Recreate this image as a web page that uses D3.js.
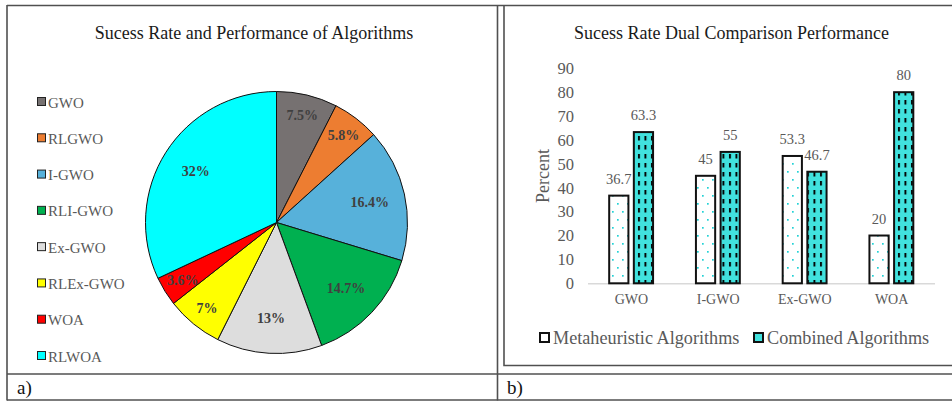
<!DOCTYPE html>
<html><head><meta charset="utf-8">
<script src="https://cdn.jsdelivr.net/npm/d3@7"></script>
<style>
html,body{margin:0;padding:0;background:#fff;}
svg{display:block;font-family:"Liberation Serif","Times New Roman",serif;}
</style></head>
<body>
<svg id="c" width="952" height="404"></svg>
<script>
// ---- data ----
const pieTitle = "Sucess Rate and Performance of Algorithms";
const pieCategories = ["GWO","RLGWO","I-GWO","RLI-GWO","Ex-GWO","RLEx-GWO","WOA","RLWOA"];
const pieValues = [7.5, 5.8, 16.4, 14.7, 13, 7, 3.6, 32];
const pieLabels = ["7.5%","5.8%","16.4%","14.7%","13%","7%","3.6%","32%"];
const pieColors = ["#767171","#ED7D31","#57B1DA","#00B050","#DDDDDD","#FFFF00","#FF0000","#00FFFF"];

const barTitle = "Sucess Rate Dual Comparison Performance";
const barCategories = ["GWO","I-GWO","Ex-GWO","WOA"];
const barSeries = ["Metaheuristic Algorithms","Combined Algorithms"];
const metaValues = [36.7, 45, 53.3, 20];
const combinedValues = [63.3, 55, 46.7, 80];
const yTicks = [0,10,20,30,40,50,60,70,80,90];
const panelLabels = ["a)","b)"];

const svg = d3.select("#c");
const defs = svg.append("defs");
const TURQ = "#41E2DE";

// patterns
const pDots = defs.append("pattern").attr("id","dots").attr("patternUnits","userSpaceOnUse")
  .attr("width",10).attr("height",16);
pDots.append("rect").attr("width",10).attr("height",16).attr("fill","#fff");
pDots.append("rect").attr("x",2).attr("y",3).attr("width",1.7).attr("height",1.7).attr("fill","#22D2D6");
pDots.append("rect").attr("x",7).attr("y",11).attr("width",1.7).attr("height",1.7).attr("fill","#22D2D6");

const pDash = defs.append("pattern").attr("id","dash").attr("patternUnits","userSpaceOnUse")
  .attr("width",6.5).attr("height",9);
pDash.append("rect").attr("width",6.5).attr("height",9).attr("fill",TURQ);
pDash.append("rect").attr("x",1).attr("y",1).attr("width",1.9).attr("height",4.5).attr("fill","#000");

// ---- frame ----
const fr = svg.append("g").attr("stroke","#505050").attr("stroke-width",1.6).attr("fill","none");
fr.append("line").attr("x1",7).attr("x2",952).attr("y1",5.5).attr("y2",5.5);
fr.append("line").attr("x1",7).attr("x2",7).attr("y1",5).attr("y2",400.5);
fr.append("line").attr("x1",497.5).attr("x2",497.5).attr("y1",5).attr("y2",400.5);
fr.append("line").attr("x1",7).attr("x2",952).attr("y1",374).attr("y2",374);
fr.append("line").attr("x1",7).attr("x2",952).attr("y1",400).attr("y2",400);
fr.append("polyline").attr("points","504,6 504,365.5 952,365.5");

svg.selectAll("text.panel").data(panelLabels).join("text")
  .attr("x",(d,i)=> i===0 ? 17 : 507).attr("y",394)
  .attr("font-size",19).attr("fill","#111").text(d=>d);

// ---- pie ----
svg.append("text").attr("x",254).attr("y",39).attr("text-anchor","middle")
  .attr("font-size",18).attr("fill","#1a1a1a").text(pieTitle);

const cx = 276.5, cy = 222.5, R = 131;
const pie = d3.pie().sort(null).value(d=>d.v);
const pdata = pie(pieCategories.map((c,i)=>({c, v:pieValues[i], col:pieColors[i], lab:pieLabels[i]})));
const arc = d3.arc().innerRadius(0).outerRadius(R);
const gp = svg.append("g").attr("transform",`translate(${cx},${cy})`);
gp.selectAll("path").data(pdata).join("path")
  .attr("d",arc).attr("fill",d=>d.data.col).attr("stroke","#111").attr("stroke-width",1);
gp.selectAll("text").data(pdata).join("text")
  .attr("transform",d=>{
    const small = d.data.v < 10;
    const r = R*(small?0.84:0.73);
    const a = (d.startAngle+d.endAngle)/2;
    return `translate(${Math.sin(a)*r},${-Math.cos(a)*r})`;
  })
  .attr("text-anchor","middle").attr("dy","0.35em")
  .attr("font-size",14).attr("font-weight","bold").attr("fill","#404040")
  .text(d=>d.data.lab);

// pie legend
const lg = svg.append("g");
const ly = d3.scalePoint().domain(pieCategories).range([102,356]);
pieCategories.forEach((c,i)=>{
  lg.append("rect").attr("x",37.5).attr("y",ly(c)-4.5).attr("width",8).attr("height",8)
    .attr("fill",pieColors[i]).attr("stroke","#222").attr("stroke-width",1);
  lg.append("text").attr("x",48).attr("y",ly(c)+5.5).attr("font-size",15).attr("fill","#595959").text(c);
});

// ---- bar chart ----
svg.append("text").attr("x",731.5).attr("y",39).attr("text-anchor","middle")
  .attr("font-size",18).attr("fill","#1a1a1a").text(barTitle);

const x0 = d3.scaleBand().domain(barCategories).range([588,935]).padding(0);
const bw = x0.bandwidth();
const x1 = d3.scaleBand().domain(barSeries).range([bw*0.25-0.5, bw*0.75]).paddingInner(0.22);
const y = d3.scaleLinear().domain([0,90]).range([283.3,68.3]);

const yAxis = svg.append("g").attr("transform","translate(588,0)")
  .call(d3.axisLeft(y).tickValues(yTicks).tickSize(0).tickPadding(14));
yAxis.select(".domain").remove();
yAxis.selectAll("text").attr("font-family","Liberation Serif").attr("font-size",16.5).attr("fill","#595959");

svg.append("line").attr("x1",588).attr("x2",935).attr("y1",y(0)+0.5).attr("y2",y(0)+0.5)
  .attr("stroke","#D9D9D9").attr("stroke-width",1.5);

const xAxis = svg.append("g").attr("transform",`translate(0,${y(0)})`)
  .call(d3.axisBottom(x0).tickSize(0).tickPadding(11));
xAxis.select(".domain").remove();
xAxis.selectAll("text").attr("font-family","Liberation Serif").attr("font-size",14).attr("fill","#595959");

svg.append("text").attr("transform",`translate(549,176) rotate(-90)`).attr("text-anchor","middle")
  .attr("font-size",18).attr("fill","#595959").text("Percent");

const rows = barCategories.map((c,i)=>[
  {c, s:barSeries[0], v:metaValues[i], fill:"url(#dots)"},
  {c, s:barSeries[1], v:combinedValues[i], fill:"url(#dash)"}
]).flat();

const gb = svg.append("g");
gb.selectAll("rect").data(rows).join("rect")
  .attr("x",d=>x0(d.c)+x1(d.s)).attr("width",x1.bandwidth())
  .attr("y",d=>y(d.v)).attr("height",d=>y(0)-y(d.v))
  .attr("fill",d=>d.fill).attr("stroke","#111").attr("stroke-width",2);
gb.selectAll("text").data(rows).join("text")
  .attr("x",d=>x0(d.c)+x1(d.s)+x1.bandwidth()/2).attr("y",d=>y(d.v)-12)
  .attr("text-anchor","middle").attr("font-size",14.5).attr("fill","#595959")
  .text(d=>d.v);

// bar legend
const legX = [539, 753];
barSeries.forEach((s,i)=>{
  svg.append("rect").attr("x",legX[i]+1).attr("y",333).attr("width",9).attr("height",9)
    .attr("fill",i===0?"#fff":TURQ).attr("stroke","#111").attr("stroke-width",2);
  svg.append("text").attr("x",legX[i]+14).attr("y",344).attr("font-size",18.2)
    .attr("fill","#595959").text(s);
});
</script>
</body></html>
